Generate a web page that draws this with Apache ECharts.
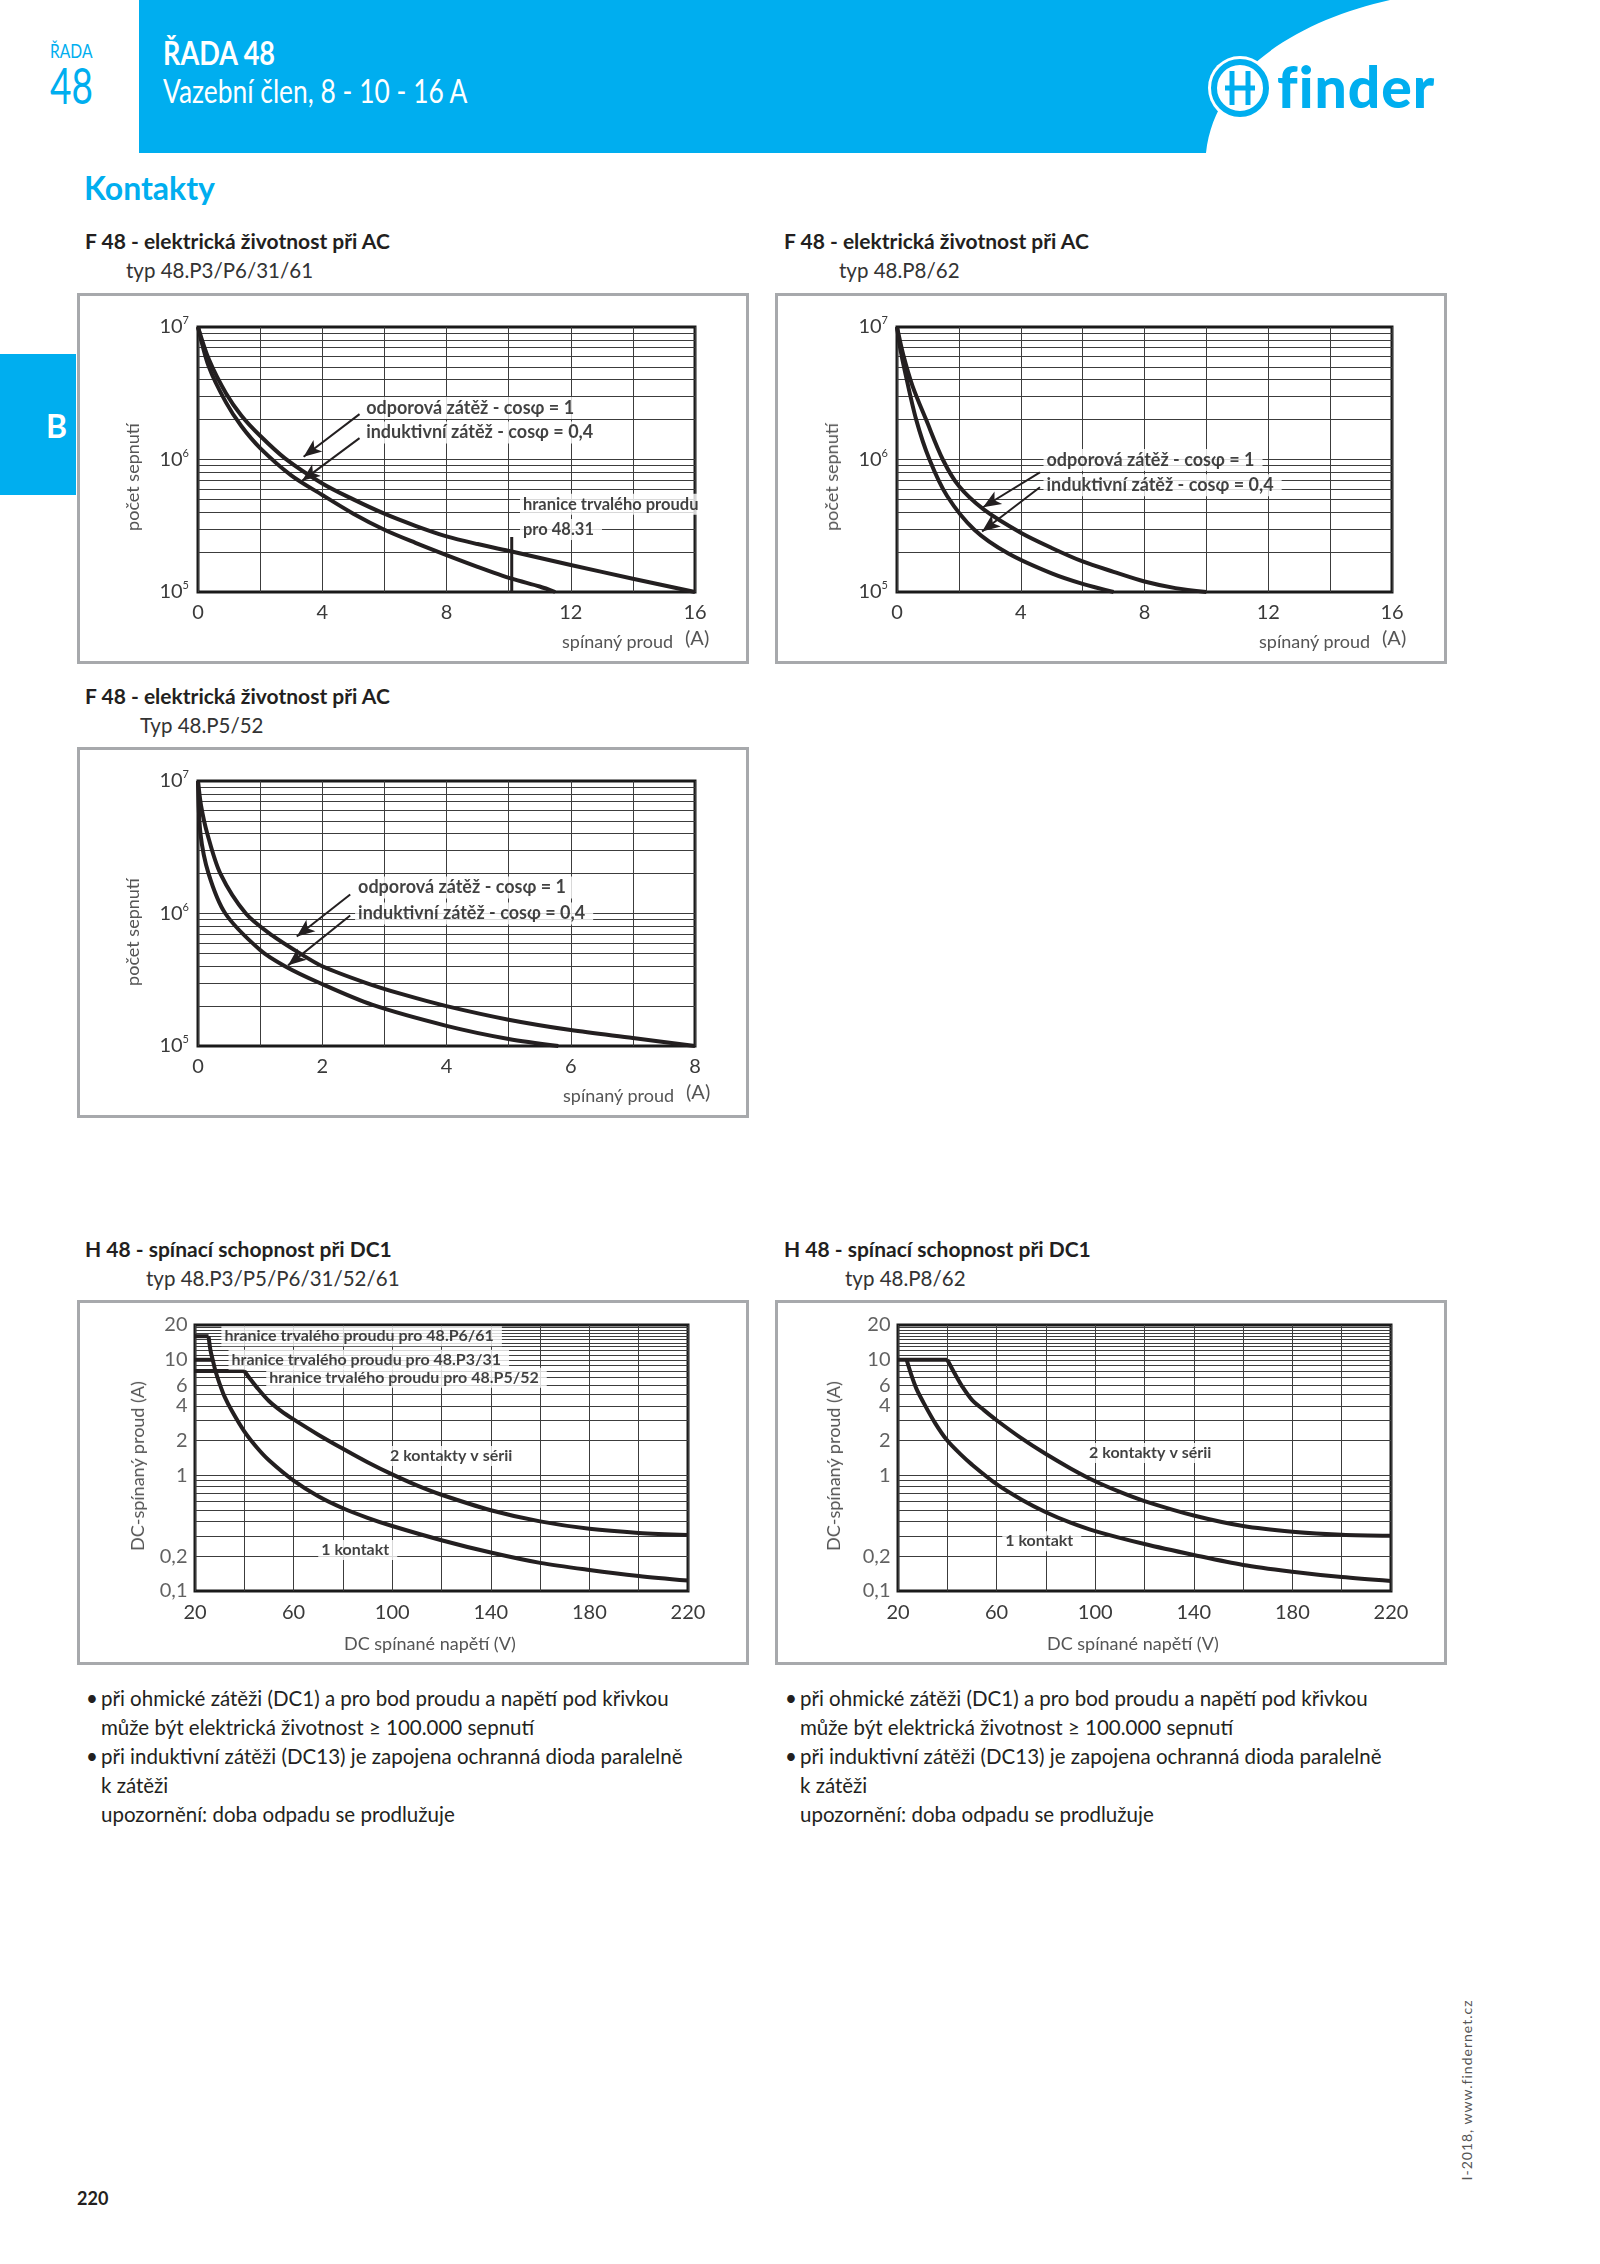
<!DOCTYPE html>
<html><head><meta charset="utf-8">
<script src="https://cdn.jsdelivr.net/npm/echarts@6/dist/echarts.min.js"></script>
<style>
html,body{margin:0;padding:0;background:#fff;}
body{width:1600px;height:2264px;position:relative;overflow:hidden;font-family:Lato,'Open Sans',sans-serif;color:#231f20;}
.t{position:absolute;white-space:nowrap;transform-origin:0 50%;line-height:1;}
.frame{position:absolute;border:3px solid #a7a9ac;box-sizing:border-box;}
.chart{position:absolute;}
.title{font-weight:bold;font-size:21px;color:#231f20;}
.sub{font-size:20.5px;color:#333;}
.axn{font-size:18px;color:#555;}
.vt{position:absolute;white-space:nowrap;line-height:1;transform:translate(-50%,-50%) rotate(-90deg);}
.bul{font-size:20.5px;color:#231f20;}
</style>
</head><body>
<script>
// ---------------- DATA ----------------
// F 48 AC electrical life, type 48.P3/P6/31/61 (x: A, y: cycles)
const ac1ResX = [0,0.35,0.9,1.4,2,2.8,4,5,6,7,8,9,10.1,12,14,16];
const ac1ResY = [1e7,5.7e6,3.16e6,2.14e6,1.51e6,1.02e6,6.6e5,5.0e5,3.9e5,3.16e5,2.63e5,2.3e5,2.02e5,1.6e5,1.26e5,1.0e5];
const ac1IndX = [0,0.35,0.9,1.4,2,3,4,5,6,7,8,9,10.1,11,11.5];
const ac1IndY = [1e7,5.0e6,2.7e6,1.78e6,1.22e6,7.6e5,5.4e5,3.9e5,2.95e5,2.35e5,1.9e5,1.55e5,1.26e5,1.1e5,1.0e5];
const ac1LimitX = [10.1,10.1];
const ac1LimitY = [1e5,2.6e5];
// type 48.P8/62
const ac2ResX = [0,0.2,0.5,0.94,1.48,2,2.8,4,5,6,7,8,9,10];
const ac2ResY = [1e7,6.2e6,3.6e6,2.0e6,1.0e6,6.3e5,4.2e5,2.8e5,2.15e5,1.7e5,1.42e5,1.2e5,1.07e5,1.0e5];
const ac2IndX = [0,0.1,0.25,0.62,1.05,1.62,2.5,3.6,5.0,6.0,7.0];
const ac2IndY = [1e7,7e6,4.7e6,2.0e6,1.0e6,5.3e5,2.95e5,1.95e5,1.38e5,1.15e5,1.0e5];
// type 48.P5/52
const ac3ResX = [0,0.05,0.15,0.36,0.77,1.2,1.64,2,2.7,3.3,4,5,6,7,8];
const ac3ResY = [1e7,6.5e6,4.0e6,2.0e6,1.0e6,6.8e5,5.0e5,4.0e5,3.0e5,2.45e5,2.0e5,1.58e5,1.32e5,1.15e5,1.0e5];
const ac3IndX = [0,0.04,0.17,0.44,1.0,1.4,1.95,2.8,4,5,5.8];
const ac3IndY = [1e7,4.0e6,2.0e6,1.0e6,5.3e5,4.0e5,3.0e5,2.05e5,1.42e5,1.13e5,1.0e5];
// H 48 DC1 breaking capacity, 48.P3/P5/P6/31/52/61 (x: V, y: A)
const dc1P6X = [20,25.5];   const dc1P6Y = [16,16];
const dc1P3X = [20,27.2];   const dc1P3Y = [10,10];
const dc1P5X = [20,40];     const dc1P5Y = [8,8];
const dc1OneX = [25.5,26.3,27.2,28.3,30,32,35,40,45,50,60,70,80,90,100,120,140,160,180,200,220];
const dc1OneY = [16,12,10,8,6.2,4.8,3.6,2.4,1.75,1.35,0.9,0.66,0.52,0.43,0.365,0.275,0.215,0.175,0.152,0.135,0.123];
const dc1TwoX = [40,42,45,50,55,60,70,80,90,100,110,120,140,160,180,200,220];
const dc1TwoY = [8,7.0,5.8,4.4,3.6,3.05,2.25,1.7,1.3,1.02,0.82,0.68,0.5,0.4,0.345,0.318,0.305];
// 48.P8/62
const dc2LimX = [20,40];    const dc2LimY = [10,10];
const dc2OneX = [23.5,25.4,27.5,30,35,40,45,50,60,70,80,90,100,120,140,160,180,200,220];
const dc2OneY = [10,7.4,5.6,4.4,2.85,2.0,1.55,1.24,0.84,0.62,0.48,0.39,0.33,0.255,0.205,0.168,0.147,0.132,0.122];
const dc2TwoX = [40,43,46,50,55,60,70,80,90,100,110,120,140,160,180,200,220];
const dc2TwoY = [10,7.6,5.9,4.5,3.65,3.0,2.1,1.53,1.15,0.89,0.72,0.6,0.45,0.365,0.326,0.306,0.3];
// tick / grid values
const AC_Y_MINOR = [2e5,3e5,4e5,5e5,6e5,7e5,8e5,9e5,1e6,2e6,3e6,4e6,5e6,6e6,7e6,8e6,9e6];
const DC_Y_MINOR = [0.2,0.3,0.4,0.5,0.6,0.7,0.8,0.9,1,2,3,4,5,6,7,8,9,10,11,12,13,14,15,16,17,18,19];
const DC_Y_TICKS = [0.1,0.2,1,2,4,6,10,20];
// annotation texts
const TXT_RES = 'odporová zátěž - cosφ = 1';
const TXT_IND = 'induktivní zátěž - cosφ = 0,4';
const ac1Labels = [[5.3,2.45e6,TXT_RES],[5.3,1.6e6,TXT_IND]];
const ac1LimitLabels = [[10.35,4.6e5,'hranice trvalého proudu'],[10.35,2.96e5,'pro 48.31']];
const ac1Arrows = [[5.2,2.2e6,3.4,1.05e6],[5.2,1.45e6,3.35,6.9e5]];
const ac2Labels = [[4.72,9.9e5,TXT_RES],[4.72,6.4e5,TXT_IND]];
const ac2Arrows = [[4.62,8.0e5,2.78,4.36e5],[4.62,6.18e5,2.75,2.86e5]];
const ac3Labels = [[2.52,1.57e6,TXT_RES],[2.52,1.0e6,TXT_IND]];
const ac3Arrows = [[2.45,1.39e6,1.59,6.7e5],[2.45,9.66e5,1.45,4.06e5]];
const dc1Labels = [[30.5,16,'hranice trvalého proudu pro 48.P6/61'],[33.4,10,'hranice trvalého proudu pro 48.P3/31'],[48.7,7.0,'hranice trvalého proudu pro 48.P5/52'],[97.7,1.47,'2 kontakty v sérii'],[69.8,0.226,'1 kontakt']];
const dc2Labels = [[96.1,1.56,'2 kontakty v sérii'],[62.1,0.27,'1 kontakt']];

// ---------------- HELPERS ----------------
const zip = (xs, ys) => xs.map((x, i) => [x, ys[i]]);
const INK = '#231f20';
const CLEAR = 'rgba(0,0,0,0)';
function curve(xs, ys, smooth) {
  return {type:'line', data:zip(xs, ys), showSymbol:false, silent:true, z:5,
    smooth: smooth ? 0.3 : false,
    lineStyle:{color:INK, width:4, cap:'butt', join:'round'}};
}
function gridLines(vals) {
  return {type:'line', data:[], silent:true, z:1,
    markLine:{silent:true, animation:false, symbol:['none','none'], label:{show:false},
      lineStyle:{color:'#3c3c3c', width:1, type:'solid'}, data: vals.map(v => ({yAxis:v}))}};
}
function arrows(list) {
  return {type:'line', data:[], silent:true, z:7,
    markLine:{silent:true, animation:false, label:{show:false},
      lineStyle:{color:INK, width:2, type:'solid'},
      data: list.map(a => [{coord:[a[0],a[1]], symbol:'none'},{coord:[a[2],a[3]], symbol:'arrow', symbolSize:[11,18]}])}};
}
function labels(list, fs) {
  return {type:'scatter', z:10, silent:true, clip:false, symbolSize:1, itemStyle:{color:CLEAR},
    data: list.map(l => ({value:[l[0], l[1]], name:l[2]})),
    label:{show:true, position:'right', distance:0, formatter: p => p.name,
      fontFamily:'Lato', fontWeight:'bold', fontSize:fs, color:'#111',
      backgroundColor:'#fff', padding:[2,8,2,3]}};
}
const LBL = {fontFamily:'Lato', fontSize:20, color:'#3a3a3a'};
function acOption(g, xMax, xStep, labStep, series) {
  return {animation:false,
    grid:{left:g[0], top:g[1], width:g[2], height:g[3], show:true, borderColor:'#1a1a1a', borderWidth:3, backgroundColor:CLEAR},
    xAxis:{type:'value', min:0, max:xMax, interval:xStep, axisLine:{show:false}, axisTick:{show:false},
      splitLine:{show:true, lineStyle:{color:'#3c3c3c', width:1}},
      axisLabel:Object.assign({margin:11, formatter: v => (v % labStep === 0 ? String(v) : '')}, LBL)},
    yAxis:{type:'log', logBase:10, min:1e5, max:1e7, axisLine:{show:false}, axisTick:{show:false}, splitLine:{show:false},
      axisLabel:{margin:9, formatter: v => '{b|10}{s|' + Math.round(Math.log10(v)) + '}',
        rich:{b:LBL, s:{fontFamily:'Lato', fontSize:11, color:'#3a3a3a', padding:[0,0,13,0]}}}},
    series: [gridLines(AC_Y_MINOR)].concat(series)};
}
function dcOption(g, series, lbls) {
  return {animation:false,
    grid:{left:g[0], top:g[1], width:g[2], height:g[3], show:true, borderColor:'#1a1a1a', borderWidth:3, backgroundColor:CLEAR},
    xAxis:{type:'value', min:20, max:220, interval:20, axisLine:{show:false}, axisTick:{show:false},
      splitLine:{show:true, lineStyle:{color:'#3c3c3c', width:1}},
      axisLabel:Object.assign({margin:12, formatter: v => ((v - 20) % 40 === 0 ? String(v) : '')}, LBL)},
    yAxis:{type:'log', logBase:10, min:0.1, max:20, axisLine:{show:false}, axisTick:{show:false}, splitLine:{show:false}, axisLabel:{show:false}},
    series:[gridLines(DC_Y_MINOR),
      {type:'scatter', silent:true, clip:false, symbolSize:1, itemStyle:{color:CLEAR}, z:3,
        data: DC_Y_TICKS.map(v => [20, v]),
        label:Object.assign({show:true, position:'left', distance:7, formatter: p => String(p.value[1]).replace('.', ',')}, LBL)}
    ].concat(series, [labels(lbls, 16)])};
}
function mk(id, box, opt) {
  const f = document.createElement('div');
  f.className = 'frame';
  f.style.left = box[0] + 'px'; f.style.top = box[1] + 'px';
  f.style.width = box[2] + 'px'; f.style.height = box[3] + 'px';
  document.body.appendChild(f);
  const d = document.createElement('div');
  d.className = 'chart'; d.id = id;
  d.style.left = box[0] + 'px'; d.style.top = box[1] + 'px';
  d.style.width = box[2] + 'px'; d.style.height = box[3] + 'px';
  document.body.appendChild(d);
  echarts.init(d, null, {renderer:'canvas'}).setOption(opt);
}
</script>

<!-- HEADER -->
<svg style="position:absolute;left:0;top:0" width="1600" height="160">
  <path d="M139,0 L1390,0 C1300,20 1215,70 1206,153 L139,153 Z" fill="#00aeef"/>
  <circle cx="1240" cy="88" r="32" fill="#fff"/>
  <circle cx="1240" cy="88" r="26" fill="#fff" stroke="#00aeef" stroke-width="6"/>
  <path d="M1232,71 L1232,105 M1248,71 L1248,105 M1225,88 L1255,88" stroke="#00aeef" stroke-width="5" fill="none"/>
</svg>
<div class="t" style="left:50px;top:40px;font-size:20px;color:#00aeef;transform:scaleX(0.78)">ŘADA</div>
<div class="t" style="left:50px;top:60px;font-size:50px;color:#00aeef;transform:scaleX(0.74)">48</div>
<div class="t" style="left:163px;top:36px;font-size:33px;font-weight:bold;color:#fff;transform:scaleX(0.82)">ŘADA 48</div>
<div class="t" style="left:163px;top:74px;font-size:33px;color:#fff;transform:scaleX(0.8)">Vazební člen, 8 - 10 - 16 A</div>
<div class="t" style="left:1277px;top:58px;font-size:57px;font-weight:900;color:#00aeef;letter-spacing:1px">finder</div>

<div style="position:absolute;left:0;top:354px;width:76px;height:141px;background:#00aeef"></div>
<div class="t" style="left:46px;top:410px;font-size:32px;font-weight:bold;color:#fff">B</div>

<div class="t" style="left:84px;top:172px;font-size:32px;font-weight:bold;color:#00aeef">Kontakty</div>

<!-- TITLES -->
<div class="t title" style="left:85px;top:230px">F 48 - elektrická životnost při AC</div>
<div class="t sub" style="left:126px;top:260px">typ 48.P3/P6/31/61</div>
<div class="t title" style="left:784px;top:230px">F 48 - elektrická životnost při AC</div>
<div class="t sub" style="left:839px;top:260px">typ 48.P8/62</div>
<div class="t title" style="left:85px;top:685px">F 48 - elektrická životnost při AC</div>
<div class="t sub" style="left:140px;top:715px">Typ 48.P5/52</div>
<div class="t title" style="left:85px;top:1238px">H 48 - spínací schopnost při DC1</div>
<div class="t sub" style="left:146px;top:1268px">typ 48.P3/P5/P6/31/52/61</div>
<div class="t title" style="left:784px;top:1238px">H 48 - spínací schopnost při DC1</div>
<div class="t sub" style="left:845px;top:1268px">typ 48.P8/62</div>

<script>
mk('c1', [77,293,672,371], acOption([121,34,497,265], 16, 2, 4, [
  curve(ac1ResX, ac1ResY, true), curve(ac1IndX, ac1IndY, true),
  Object.assign(curve(ac1LimitX, ac1LimitY, false), {lineStyle:{color:INK, width:3}}),
  arrows(ac1Arrows), labels(ac1Labels, 18), labels(ac1LimitLabels, 16.5)]));
mk('c2', [775,293,672,371], acOption([122,34,495,265], 16, 2, 4, [
  curve(ac2ResX, ac2ResY, true), curve(ac2IndX, ac2IndY, true),
  arrows(ac2Arrows), labels(ac2Labels, 18)]));
mk('c3', [77,747,672,371], acOption([121,34,497,265], 8, 1, 2, [
  curve(ac3ResX, ac3ResY, true), curve(ac3IndX, ac3IndY, true),
  arrows(ac3Arrows), labels(ac3Labels, 18)]));
mk('c4', [77,1300,672,365], dcOption([118,25,493,266], [
  curve(dc1P6X, dc1P6Y, false), curve(dc1P3X, dc1P3Y, false), curve(dc1P5X, dc1P5Y, false),
  curve(dc1OneX, dc1OneY, true), curve(dc1TwoX, dc1TwoY, true)], dc1Labels));
mk('c5', [775,1300,672,365], dcOption([123,25,493,266], [
  curve(dc2LimX, dc2LimY, false), curve(dc2OneX, dc2OneY, true), curve(dc2TwoX, dc2TwoY, true)], dc2Labels));
</script>

<!-- AXIS NAMES -->
<div class="vt axn" style="left:132px;top:477px">počet sepnutí</div>
<div class="vt axn" style="left:831px;top:477px">počet sepnutí</div>
<div class="vt axn" style="left:132px;top:932px">počet sepnutí</div>
<div class="vt axn" style="left:137px;top:1466px">DC-spínaný proud (A)</div>
<div class="vt axn" style="left:833px;top:1466px">DC-spínaný proud (A)</div>
<div class="t axn" style="left:562px;top:632px">spínaný proud</div><div class="t axn" style="left:685px;top:627px;font-size:20px">(A)</div>
<div class="t axn" style="left:1259px;top:632px">spínaný proud</div><div class="t axn" style="left:1382px;top:627px;font-size:20px">(A)</div>
<div class="t axn" style="left:563px;top:1086px">spínaný proud</div><div class="t axn" style="left:686px;top:1081px;font-size:20px">(A)</div>
<div class="t axn" style="left:344px;top:1634px">DC spínané napětí (V)</div>
<div class="t axn" style="left:1047px;top:1634px">DC spínané napětí (V)</div>

<!-- BULLETS -->
<div class="t bul" style="left:86px;top:1688px">•</div><div class="t bul" style="left:101px;top:1688px">při ohmické zátěži (DC1) a pro bod proudu a napětí pod křivkou</div>
<div class="t bul" style="left:101px;top:1717px">může být elektrická životnost ≥ 100.000 sepnutí</div>
<div class="t bul" style="left:86px;top:1746px">•</div><div class="t bul" style="left:101px;top:1746px">při induktivní zátěži (DC13) je zapojena ochranná dioda paralelně</div>
<div class="t bul" style="left:101px;top:1775px">k zátěži</div>
<div class="t bul" style="left:101px;top:1804px">upozornění: doba odpadu se prodlužuje</div>

<div class="t bul" style="left:785px;top:1688px">•</div><div class="t bul" style="left:800px;top:1688px">při ohmické zátěži (DC1) a pro bod proudu a napětí pod křivkou</div>
<div class="t bul" style="left:800px;top:1717px">může být elektrická životnost ≥ 100.000 sepnutí</div>
<div class="t bul" style="left:785px;top:1746px">•</div><div class="t bul" style="left:800px;top:1746px">při induktivní zátěži (DC13) je zapojena ochranná dioda paralelně</div>
<div class="t bul" style="left:800px;top:1775px">k zátěži</div>
<div class="t bul" style="left:800px;top:1804px">upozornění: doba odpadu se prodlužuje</div>

<div class="t" style="left:77px;top:2189px;font-size:18px;font-weight:bold">220</div>
<div class="vt" style="left:1467px;top:2090px;font-size:14px;color:#555;letter-spacing:1px">I-2018, www.findernet.cz</div>
</body></html>
